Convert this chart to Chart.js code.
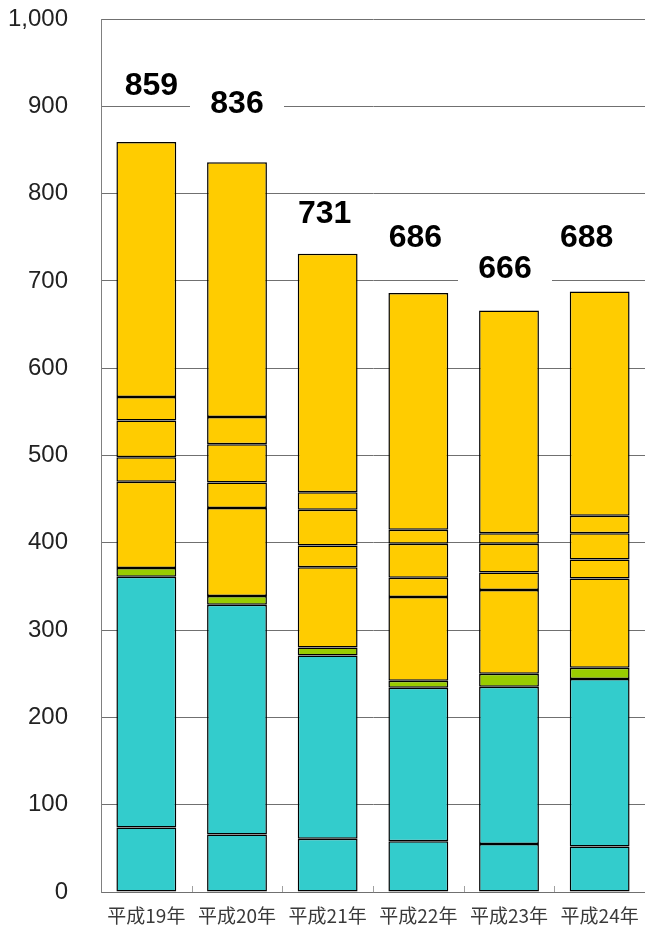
<!DOCTYPE html>
<html>
<head>
<meta charset="utf-8">
<script src="https://cdn.jsdelivr.net/npm/chart.js@4"></script>
<style>
  html, body { margin: 0; padding: 0; background: #fff; }
  #wrap { width: 645px; height: 937px; position: relative; }
</style>
</head>
<body>
<div id="wrap"><canvas id="chart"></canvas></div>
<script>
// categories and stacked segment values (bottom to top)
const categories = ['平成19年', '平成20年', '平成21年', '平成22年', '平成23年', '平成24年'];
const seriesA = [74, 66, 61, 58, 55, 52];
const seriesB = [287, 263, 210, 176, 180, 192];
const seriesC = [10, 10, 9, 8, 15, 13];
const seriesD = [99, 101, 92, 96, 96, 102];
const seriesE = [28, 29, 25, 22, 20, 22];
const seriesF = [42, 44, 41, 39, 33, 30];
const seriesG = [27, 31, 20, 16, 12, 20];
const seriesH = [292, 292, 273, 271, 255, 257];
const totals = [859, 836, 731, 686, 666, 688];
const yTicks = [0, 100, 200, 300, 400, 500, 600, 700, 800, 900, 1000];

const TEAL = '#33CCCC';
const GREEN = '#99CC00';
const YELLOW = '#FFCC00';

// label placement tweaks (pixels), the original labels were moved by hand
const labelLiftY = [57, 59, 41, 56, 42, 54];
const labelShiftX = [5, 0, -3, -3, -4, -13];

function seg(data, color) {
  return {
    data: data,
    backgroundColor: color,
    borderColor: '#000',
    borderWidth: 1.5,
    borderSkipped: false,
    barPercentage: 0.66,
    categoryPercentage: 1.0,
    stack: 's'
  };
}

// total labels above each bar, on a white box
const totalLabels = {
  id: 'totalLabels',
  afterDatasetsDraw(chart) {
    const ctx = chart.ctx;
    const xs = chart.scales.x;
    const ys = chart.scales.y;
    ctx.save();
    ctx.font = 'bold 32px "Liberation Sans", Arial, sans-serif';
    ctx.textAlign = 'center';
    ctx.textBaseline = 'middle';
    totals.forEach((t, i) => {
      const x = xs.getPixelForValue(i) + labelShiftX[i];
      const y = ys.getPixelForValue(t) - labelLiftY[i];
      ctx.fillStyle = '#fff';
      ctx.fillRect(x - 47, y - 14, 94, 28);
      ctx.fillStyle = '#000';
      ctx.fillText(String(t), x, y + 1);
    });
    ctx.restore();
  }
};

// small upward tick marks between categories on the x axis
const innerTicks = {
  id: 'innerTicks',
  afterDraw(chart) {
    const ctx = chart.ctx;
    const xs = chart.scales.x;
    const bottom = chart.chartArea.bottom;
    ctx.save();
    ctx.strokeStyle = '#a0a0a0';
    ctx.lineWidth = 1;
    for (let i = 0; i < categories.length - 1; i++) {
      const x = Math.round((xs.getPixelForValue(i) + xs.getPixelForValue(i + 1)) / 2) + 0.5;
      ctx.beginPath();
      ctx.moveTo(x, bottom - 6);
      ctx.lineTo(x, bottom);
      ctx.stroke();
    }
    ctx.restore();
  }
};

new Chart(document.getElementById('chart'), {
  type: 'bar',
  data: {
    labels: categories,
    datasets: [
      seg(seriesA, TEAL),
      seg(seriesB, TEAL),
      seg(seriesC, GREEN),
      seg(seriesD, YELLOW),
      seg(seriesE, YELLOW),
      seg(seriesF, YELLOW),
      seg(seriesG, YELLOW),
      seg(seriesH, YELLOW)
    ]
  },
  options: {
    responsive: true,
    maintainAspectRatio: false,
    animation: false,
    layout: { padding: { top: 19, right: 0, bottom: 0, left: 0 } },
    plugins: {
      legend: { display: false },
      tooltip: { enabled: false }
    },
    scales: {
      x: {
        stacked: true,
        grid: { display: true, drawOnChartArea: false, drawTicks: true, tickLength: 12, tickColor: 'rgba(0,0,0,0)' },
        border: { color: '#707070', width: 1 },
        ticks: {
          padding: 0,
          color: '#3a3a3a',
          font: { family: '"Noto Sans CJK JP", sans-serif', size: 19 }
        },
        afterFit(scale) { scale.height = 45; }
      },
      y: {
        stacked: true,
        min: 0,
        max: 1000,
        afterBuildTicks(scale) { scale.ticks = yTicks.map(v => ({ value: v })); },
        grid: { color: '#707070', lineWidth: 1, drawTicks: true, tickLength: 30, tickColor: 'rgba(0,0,0,0)' },
        border: { color: '#808080', width: 1 },
        ticks: {
          padding: 3,
          color: '#222',
          font: { family: '"Liberation Sans", Arial, sans-serif', size: 24 },
          callback: v => v.toLocaleString('en-US')
        },
        afterFit(scale) { scale.width = 101; }
      }
    }
  },
  plugins: [totalLabels, innerTicks]
});
</script>
</body>
</html>
